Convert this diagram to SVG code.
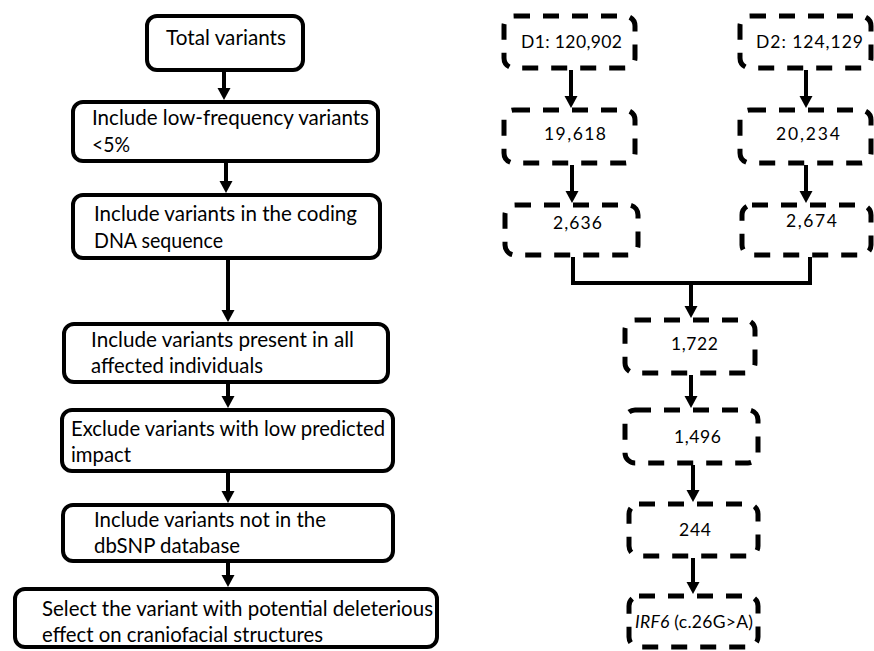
<svg xmlns="http://www.w3.org/2000/svg" width="874" height="651" viewBox="0 0 874 651">
<style>
.box{fill:#fff;stroke:#000;stroke-width:4}
.dbox{fill:#fff;stroke:#000;stroke-width:5;stroke-dasharray:16 13}
.t{font-family:Lato,"Open Sans","Liberation Sans",sans-serif;font-size:20.5px;fill:#000}
.n{font-family:Lato,"Open Sans","Liberation Sans",sans-serif;font-size:17.5px;fill:#000}
.c{fill:none;stroke:#000;stroke-width:4}
</style>
<defs>
<marker id="ah" markerUnits="userSpaceOnUse" markerWidth="13" markerHeight="14" refX="8" refY="6.5" orient="auto" viewBox="0 0 13 13">
<path d="M0,0 L12,6.5 L0,13 z" fill="#000"/>
</marker>
</defs>
<g id="connectors">
<line class="c" x1="224" y1="72" x2="224" y2="96" marker-end="url(#ah)"/>
<line class="c" x1="226" y1="163" x2="226" y2="189" marker-end="url(#ah)"/>
<line class="c" x1="228" y1="260" x2="228" y2="318" marker-end="url(#ah)"/>
<line class="c" x1="228" y1="384" x2="228" y2="404" marker-end="url(#ah)"/>
<line class="c" x1="228" y1="473" x2="228" y2="499" marker-end="url(#ah)"/>
<line class="c" x1="228" y1="563" x2="228" y2="583" marker-end="url(#ah)"/>
<line class="c" x1="571" y1="70" x2="571" y2="104" marker-end="url(#ah)"/>
<line class="c" x1="806" y1="70" x2="806" y2="104" marker-end="url(#ah)"/>
<line class="c" x1="572" y1="165" x2="572" y2="199" marker-end="url(#ah)"/>
<line class="c" x1="806" y1="165" x2="806" y2="199" marker-end="url(#ah)"/>
<path class="c" d="M573,257 V283 H810 V257"/>
<line class="c" x1="691" y1="283" x2="691" y2="314" marker-end="url(#ah)"/>
<line class="c" x1="691" y1="375" x2="691" y2="404" marker-end="url(#ah)"/>
<line class="c" x1="693" y1="465" x2="693" y2="498" marker-end="url(#ah)"/>
<line class="c" x1="693" y1="558" x2="693" y2="590" marker-end="url(#ah)"/>
</g>
<g id="total">
<rect class="box" x="147" y="16" width="156" height="54" rx="10"/>
<text class="t" x="166" y="45" textLength="120" lengthAdjust="spacingAndGlyphs">Total variants</text>
</g>
<g id="lowfreq">
<rect class="box" x="73" y="102" width="305" height="59" rx="10"/>
<text class="t" x="92" y="125" textLength="277" lengthAdjust="spacingAndGlyphs">Include low-frequency variants</text>
<text class="t" x="92" y="152" textLength="38" lengthAdjust="spacingAndGlyphs">&lt;5%</text>
</g>
<g id="coding">
<rect class="box" x="73" y="195" width="307" height="63" rx="10"/>
<text class="t" x="94" y="221" textLength="263" lengthAdjust="spacingAndGlyphs">Include variants in the coding</text>
<text class="t" x="94" y="248" textLength="129" lengthAdjust="spacingAndGlyphs">DNA sequence</text>
</g>
<g id="affected">
<rect class="box" x="64" y="324" width="324" height="58" rx="10"/>
<text class="t" x="91" y="347" textLength="263" lengthAdjust="spacingAndGlyphs">Include variants present in all</text>
<text class="t" x="91" y="373" textLength="172" lengthAdjust="spacingAndGlyphs">affected individuals</text>
</g>
<g id="impact">
<rect class="box" x="62" y="410" width="331" height="61" rx="10"/>
<text class="t" x="71" y="436" textLength="314" lengthAdjust="spacingAndGlyphs">Exclude variants with low predicted</text>
<text class="t" x="71" y="462" textLength="60" lengthAdjust="spacingAndGlyphs">impact</text>
</g>
<g id="dbsnp">
<rect class="box" x="63" y="505" width="330" height="56" rx="10"/>
<text class="t" x="94" y="527" textLength="232" lengthAdjust="spacingAndGlyphs">Include variants not in the</text>
<text class="t" x="94" y="553" textLength="146" lengthAdjust="spacingAndGlyphs">dbSNP database</text>
</g>
<g id="select">
<rect class="box" x="15" y="589" width="422" height="58" rx="10"/>
<text class="t" x="42" y="616" textLength="391" lengthAdjust="spacingAndGlyphs">Select the variant with potential deleterious</text>
<text class="t" x="42" y="642" textLength="281" lengthAdjust="spacingAndGlyphs">effect on craniofacial structures</text>
</g>
<g id="d1">
<rect class="dbox" x="504" y="16" width="131" height="52" rx="10"/>
<text class="n" x="521" y="48" textLength="101">D1: 120,902</text>
</g>
<g id="d2">
<rect class="dbox" x="740" y="16" width="131" height="52" rx="10"/>
<text class="n" x="756" y="48" textLength="107">D2: 124,129</text>
</g>
<g id="n19618">
<rect class="dbox" x="504" y="110" width="131" height="53" rx="10"/>
<text class="n" x="544" y="140" textLength="62">19,618</text>
</g>
<g id="n20234">
<rect class="dbox" x="740" y="110" width="131" height="53" rx="10"/>
<text class="n" x="776" y="140" textLength="64">20,234</text>
</g>
<g id="n2636">
<rect class="dbox" x="505" y="205" width="133" height="50" rx="10"/>
<text class="n" x="553" y="229" textLength="49">2,636</text>
</g>
<g id="n2674">
<rect class="dbox" x="742" y="205" width="129" height="50" rx="10"/>
<text class="n" x="786" y="227" textLength="51">2,674</text>
</g>
<g id="n1722">
<rect class="dbox" x="625" y="320" width="130" height="53" rx="10"/>
<text class="n" x="671" y="350" textLength="47">1,722</text>
</g>
<g id="n1496">
<rect class="dbox" x="625" y="410" width="133" height="53" rx="10"/>
<text class="n" x="674" y="443" textLength="47">1,496</text>
</g>
<g id="n244">
<rect class="dbox" x="629" y="504" width="129" height="52" rx="10"/>
<text class="n" x="679" y="536" textLength="32">244</text>
</g>
<g id="irf6">
<rect class="dbox" x="629" y="596" width="129" height="51" rx="10"/>
<text class="n" x="635" y="628" textLength="118"><tspan font-style="italic">IRF6</tspan> (c.26G&gt;A)</text>
</g>
</svg>
